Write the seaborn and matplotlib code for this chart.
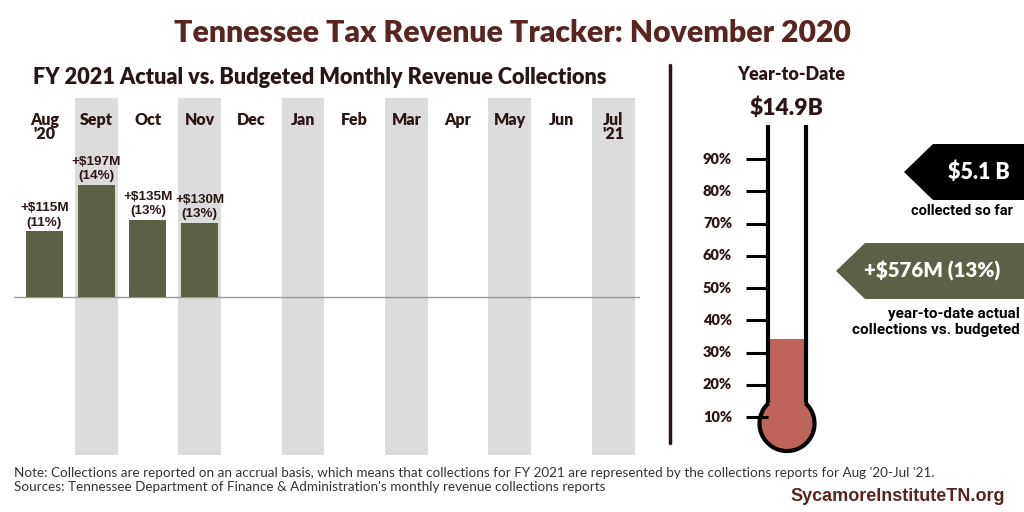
import numpy as np
import pandas as pd
import matplotlib
matplotlib.use('Agg')
import matplotlib.pyplot as plt
from matplotlib import font_manager
from matplotlib.patches import Circle, Arc, Polygon
import matplotlib.transforms as mtransforms
import seaborn as sns

# ---- data ----
months = ['Aug', 'Sept', 'Oct', 'Nov', 'Dec', 'Jan', 'Feb', 'Mar', 'Apr', 'May', 'Jun', 'Jul']
month_years = ["'20", '', '', '', '', '', '', '', '', '', '', "'21"]
collected_months = ['Aug', 'Sept', 'Oct', 'Nov']
over_budget_m = [115, 197, 135, 130]
over_budget_pct = [11, 14, 13, 13]

ytd_budget_b = 14.9
ytd_collected_b = 5.1
ytd_over_m = 576
ytd_over_pct = 13
therm_ticks = [10, 20, 30, 40, 50, 60, 70, 80, 90]

# ---- style ----
sns.set_style('white')
plt.rcParams['font.family'] = ['Lato', 'DejaVu Sans']
names = {f.name for f in font_manager.fontManager.ttflist}
narrow = 'Liberation Sans Narrow' if 'Liberation Sans Narrow' in names else 'Liberation Sans'

TITLE_C = '#5a2420'
DARK = '#2b1616'
GREEN = '#5c6044'
RED = '#bf645a'
BAND = '#dcdcdc'

W, H = 1024, 512
fig = plt.figure(figsize=(W / 100, H / 100), dpi=100)


def px_axes(x0, y0, x1, y1, **kw):
    return fig.add_axes([x0 / W, 1 - y1 / H, (x1 - x0) / W, (y1 - y0) / H], **kw)


# ---- monthly bars ----
ax = px_axes(14, 98, 640, 455)
df = pd.DataFrame({'month': collected_months, 'over': over_budget_m})
sns.barplot(data=df, x='month', y='over', order=months, color=GREEN,
            saturation=1, width=0.72, linewidth=0, ax=ax, zorder=3)
labels = [f'+${v}M\n({p}%)' for v, p in zip(over_budget_m, over_budget_pct)]
ax.bar_label(ax.containers[0], labels=labels, padding=2, fontsize=9.7,
             fontweight='bold', color=DARK, family='Liberation Sans', linespacing=1.25)
for i in range(1, len(months), 2):
    ax.axvspan(i - 0.415, i + 0.415, color=BAND, lw=0, zorder=0)
ax.axhline(0, color='#999999', lw=1, zorder=2)
ax.set_xlim(-0.59, 11.52)
ax.set_ylim(-277, 349)
ax.set_xticks([])
ax.set_yticks([])
ax.set_xlabel('')
ax.set_ylabel('')
sns.despine(ax=ax, left=True, bottom=True)
trans = mtransforms.blended_transform_factory(ax.transData, ax.transAxes)
for i, (m, yr) in enumerate(zip(months, month_years)):
    ax.text(i, (455 - 125) / 357, m, transform=trans, ha='center', va='baseline',
            fontsize=11.5, fontweight='heavy', color=DARK)
    if yr:
        ax.text(i, (455 - 139) / 357, yr, transform=trans, ha='center', va='baseline',
                fontsize=11.5, fontweight='heavy', color=DARK)

# ---- thermometer ----
tx = px_axes(690, 110, 830, 460)
tx.set_xlim(-30.08, 13.33)
tx.set_ylim(-3.33, 105.2)
tx.axis('off')
half_w = 5.74
bulb_y = 7.98
bulb_r = 8.53
fill_top = 100 * ytd_collected_b / ytd_budget_b
tx.bar(0, fill_top - bulb_y, bottom=bulb_y, width=2 * half_w, color=RED, lw=0, zorder=1)
tx.add_patch(Circle((0, bulb_y), bulb_r, facecolor=RED, edgecolor='none', zorder=1))
theta = np.degrees(np.arcsin(half_w / bulb_r))
tx.add_patch(Arc((0, bulb_y), 2 * bulb_r, 2 * bulb_r, theta1=90 + theta, theta2=450 - theta,
                 lw=3, color='black', zorder=3))
join_y = bulb_y + bulb_r * np.cos(np.radians(theta))
tx.vlines([-half_w, half_w], join_y, 100.5, color='black', lw=3, zorder=3)
tx.hlines(therm_ticks, -12.7, -half_w, color='black', lw=2.2, zorder=3)
for t in therm_ticks:
    tx.text(-17.05, t, f'{t}%', ha='right', va='center', fontsize=10.5,
            fontweight='heavy', color=DARK)

# ---- overlay: titles, divider, callouts, footer ----
ov = fig.add_axes([0, 0, 1, 1], facecolor='none')
ov.set_xlim(0, W)
ov.set_ylim(H, 0)
ov.axis('off')

ov.text(512, 33, 'Tennessee Tax Revenue Tracker: November 2020', ha='center', va='center',
        fontsize=21.7, fontweight='heavy', color=TITLE_C)
ov.text(320, 78, 'FY 2021 Actual vs. Budgeted Monthly Revenue Collections', ha='center',
        va='center', fontsize=15.6, fontweight='heavy', color=DARK)
ov.plot([670, 670], [65, 443], color=DARK, lw=2.5)

ov.text(791, 75, 'Year-to-Date', ha='center', va='center', fontsize=13,
        fontweight='heavy', color=DARK)
ov.text(786, 108, f'${ytd_budget_b}B', ha='center', va='center', fontsize=16.5,
        fontweight='heavy', color=DARK)

ov.add_patch(Polygon([(904, 172), (933, 144), (1024, 144), (1024, 200), (933, 200)],
                     closed=True, facecolor='black', edgecolor='none'))
ov.text(979, 172, f'${ytd_collected_b} B', ha='center', va='center', fontsize=15.5,
        fontweight='heavy', color='white')
ov.text(1013, 211, 'collected so far', ha='right', va='center', fontsize=10.5,
        fontweight='bold', color='black', family='Roboto')

ov.add_patch(Polygon([(836, 271), (865, 243), (1024, 243), (1024, 299), (865, 299)],
                     closed=True, facecolor=GREEN, edgecolor='none'))
ov.text(932, 271, f'+${ytd_over_m}M ({ytd_over_pct}%)', ha='center', va='center',
        fontsize=14.8, fontweight='heavy', color='white')
ov.text(1020, 314, 'year-to-date actual', ha='right', va='center', fontsize=11,
        fontweight='bold', color='black', family='Roboto')
ov.text(1020, 330, 'collections vs. budgeted', ha='right', va='center', fontsize=11,
        fontweight='bold', color='black', family='Roboto')

ov.text(14, 477, "Note: Collections are reported on an accrual basis, which means that collections "
        "for FY 2021 are represented by the collections reports for Aug '20-Jul '21.",
        ha='left', va='baseline', fontsize=9.75, fontweight='normal', color='#333333')
ov.text(14, 491, "Sources: Tennessee Department of Finance & Administration's monthly revenue "
        "collections reports", ha='left', va='baseline', fontsize=9.75, fontweight='normal',
        color='#333333')
ov.text(1005, 501, 'SycamoreInstituteTN.org', ha='right', va='baseline', fontsize=13,
        fontweight='bold', color=TITLE_C, family=narrow)

fig.savefig('out.png', dpi=100)
